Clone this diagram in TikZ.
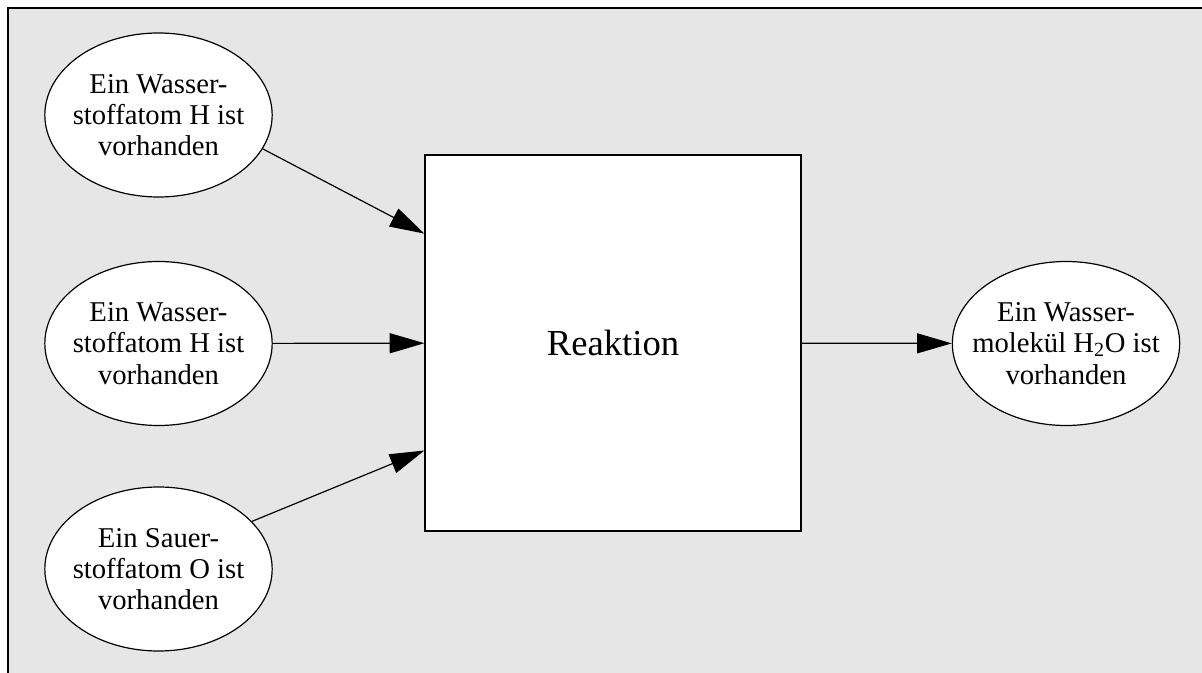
\documentclass[tikz,border=0pt]{standalone}
\usepackage{fontspec}
\setmainfont{Liberation Serif}
\usetikzlibrary{shapes.geometric,arrows.meta,calc}
\definecolor{bggray}{RGB}{230,230,230}
\begin{document}
\begin{tikzpicture}[x=0.75pt,y=-0.75pt,
  line width=0.9pt,
  oval/.style={ellipse,draw,fill=white,minimum width=170.5pt,minimum height=123pt,inner sep=0pt},
  ovaltext/.style={align=center,font=\fontsize{21.5}{23.5}\selectfont,inner sep=0pt},
  arr/.style={-{Triangle[length=26pt,width=15pt]}}]
\useasboundingbox (0,0) rectangle (1202,673);
\fill[bggray] (8,8) rectangle (1202,673);
\draw (8,673) -- (8,8) -- (1202,8);
\node[oval] (e1) at (158.5,115) {};
\node[ovaltext] (t1) at (e1.center) {Ein Wasser-\\stoffatom H ist\\vorhanden};
\node[oval] (e2) at (158.5,343.5) {};
\node[ovaltext] (t2) at (e2.center) {Ein Wasser-\\stoffatom H ist\\vorhanden};
\node[oval] (e3) at (158.5,569) {};
\node[ovaltext] (t3) at (e3.center) {Ein Sauer-\\stoffatom O ist\\vorhanden};
\node[oval] (e4) at (1066,343.5) {};
\node[ovaltext] (t4) at (e4.center) {Ein Wasser-\\molekül H\textsubscript{2}O ist\\vorhanden};
\node[draw,fill=white,minimum width=282pt,minimum height=282pt,inner sep=0pt,font=\fontsize{27.5}{30}\selectfont] (r) at (613,343) {Reaktion};
\draw[arr] (e1.-18) -- ($(r.north west)!0.21!(r.south west)$);
\draw[arr] (e2) -- (r);
\draw[arr] (e3.27) -- ($(r.north west)!0.785!(r.south west)$);
\draw[arr] (r) -- (e4);
\end{tikzpicture}
\end{document}
